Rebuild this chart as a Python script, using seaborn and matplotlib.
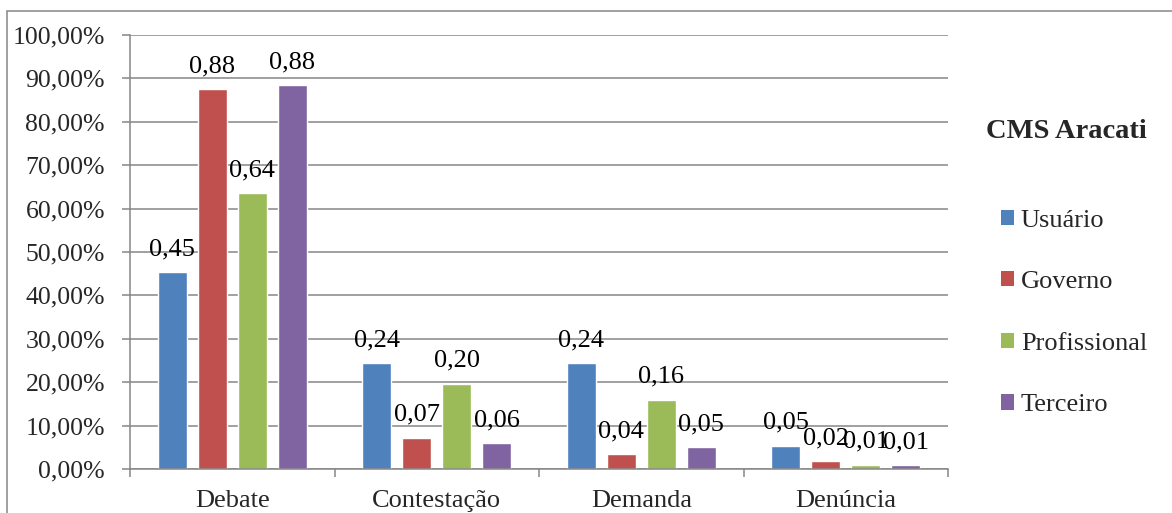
import pandas as pd
import matplotlib
matplotlib.use("Agg")
import matplotlib.pyplot as plt
import seaborn as sns
from matplotlib.patches import Rectangle, Patch
from matplotlib.ticker import FixedLocator, FuncFormatter

# Dados (fração de cada tipo de fala por segmento)
categorias = ["Debate", "Contestação", "Demanda", "Denúncia"]
segmentos = ["Usuário", "Governo", "Profissional", "Terceiro"]
usuario = [0.454, 0.244, 0.244, 0.054]
governo = [0.876, 0.072, 0.035, 0.018]
profissional = [0.636, 0.197, 0.160, 0.010]
terceiro = [0.884, 0.059, 0.051, 0.009]

cores = ["#4F81BD", "#C0504D", "#9BBB59", "#8064A2"]
cinza = "#868686"

linhas = []
for seg, vals in zip(segmentos, [usuario, governo, profissional, terceiro]):
    for cat, v in zip(categorias, vals):
        linhas.append({"categoria": cat, "segmento": seg, "valor": v})
df = pd.DataFrame(linhas)

sns.set_style("white")
plt.rcParams["font.family"] = ["Liberation Serif", "DejaVu Serif"]

fig = plt.figure(figsize=(11.72, 5.13), dpi=100)
ax = fig.add_axes([130 / 1172, 1 - 469 / 513, 818 / 1172, 434 / 513])

sns.barplot(
    data=df, x="categoria", y="valor", hue="segmento",
    order=categorias, hue_order=segmentos, palette=cores,
    width=0.78, gap=0.27, saturation=1, legend=False, ax=ax,
)

for cont in ax.containers:
    rotulos = [f"{b.get_height():.2f}".replace(".", ",") for b in cont]
    ax.bar_label(cont, labels=rotulos, padding=8.5, fontsize=19, color="black")

ax.set_ylim(0, 1)
ax.set_xlim(-0.5, 3.5)
ax.yaxis.set_major_locator(FixedLocator([i / 10 for i in range(11)]))
ax.yaxis.set_major_formatter(FuncFormatter(lambda v, p: f"{v * 100:.2f}".replace(".", ",") + "%"))
ax.xaxis.set_minor_locator(FixedLocator([-0.5, 0.5, 1.5, 2.5, 3.5]))

ax.grid(axis="y", color=cinza, linewidth=1.1)
ax.set_axisbelow(True)
ax.set_xlabel("")
ax.set_ylabel("")

for s in ["top", "right"]:
    ax.spines[s].set_visible(False)
for s in ["left", "bottom"]:
    ax.spines[s].set_color(cinza)
    ax.spines[s].set_linewidth(1.1)

ax.tick_params(axis="y", which="major", direction="out", length=6, width=1.1,
               color=cinza, labelsize=18.5, pad=12, left=True)
ax.tick_params(axis="x", which="major", length=0, labelsize=19, pad=15)
ax.tick_params(axis="x", which="minor", direction="out", length=6, width=1.1,
               color=cinza, bottom=True)

# Legenda à direita
fig.text(1066 / 1172, 1 - 132 / 513, "CMS Aracati", ha="center", va="center",
         fontsize=20.5, fontweight="bold")
alcas = [Patch(facecolor=c, edgecolor="none") for c in cores]
fig.legend(alcas, segmentos, loc="center left",
           bbox_to_anchor=(1001 / 1172, 1 - 313 / 513), frameon=False,
           fontsize=19, handlelength=0.5, handleheight=0.5,
           handletextpad=0.25, labelspacing=1.5, borderpad=0, borderaxespad=0)

# Moldura externa
fig.add_artist(Rectangle((7 / 1172, -0.1), 1.2, (513 - 11) / 513 + 0.1,
                         transform=fig.transFigure, fill=False,
                         edgecolor=cinza, linewidth=1.1))

fig.savefig("out.png", dpi=100)
